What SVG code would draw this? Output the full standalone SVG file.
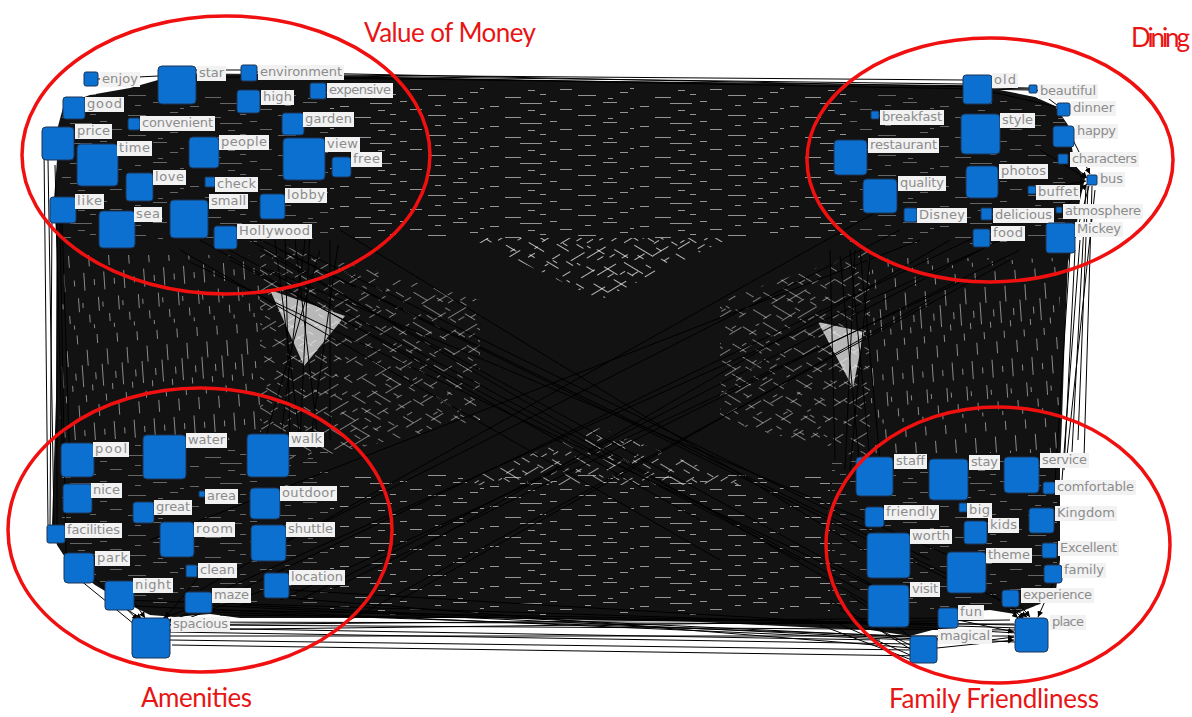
<svg xmlns="http://www.w3.org/2000/svg" width="1192" height="717" viewBox="0 0 1192 717">
<style>
.n{fill:#0b70cf;stroke:#1d3557;stroke-width:1}
.lb{fill:#f2f2f2}
.t{font-family:"DejaVu Sans",Verdana,sans-serif;font-size:13px;fill:#8c8c8c}
.e{fill:none;stroke:#000;stroke-width:1}
.ea{fill:none;stroke:#000;stroke-width:1;marker-end:url(#ah)}
.cl{fill:none;stroke:#f01010;stroke-width:3.5}
.ti{font-family:Lato,"Liberation Sans",sans-serif;font-size:26px;fill:#e81515}
.sk{stroke:#fff;stroke-width:1;fill:none}
</style>
<defs>
<marker id="ah" viewBox="0 0 10 10" refX="10" refY="5" markerWidth="6" markerHeight="6" orient="auto"><path d="M0,0L10,5L0,10z" fill="#000"/></marker>
<pattern id="tx" width="150" height="20" patternUnits="userSpaceOnUse"><path class="sk" d="M3 2.5h14M40 6.5h9M70 3.5h22M110 9.5h12M128 15.5h18M20 12.5h8M55 17.5h16M90 14.5h6M8 18.5h5M100 1.5h7M135 5.5h6M30 8.5h4M78 10.5h7"/></pattern>
<pattern id="txv" href="#tx" patternTransform="rotate(86)"/>
<pattern id="txd1" href="#tx" patternTransform="rotate(31)"/>
<pattern id="txd2" href="#tx" patternTransform="rotate(-31)"/>
</defs>
<rect width="1192" height="717" fill="#fff"/>
<g id="connectors">
<path id="edge-mass" fill="#121212" d="M57,130 L64,104 L90,95 L130,88 L158,80 L200,74 L260,75 L330,76 L600,81 L860,85 L963,86 L1000,90 L1035,97 L1055,106 L1068,125 L1075,165 L1085,178 L1080,200 L1076,230 L1068,262 L1065,330 L1062,420 L1060,470 L1060,560 L1056,590 L1040,604 L1015,614 L990,610 L960,612 L940,628 L910,636 L870,630 L820,628 L700,622 L480,618 L330,618 L240,618 L210,614 L175,617 L150,615 L120,600 L95,585 L70,565 L57,545 L52,525 L56,400 L57,250 L54,200 L57,160 Z"/>
<rect x="330" y="88" width="520" height="150" fill="url(#tx)" opacity="0.55"/>
<rect x="330" y="475" width="500" height="140" fill="url(#tx)" opacity="0.55"/>
<rect x="62" y="92" width="268" height="150" fill="url(#tx)" opacity="0.35"/>
<rect x="850" y="95" width="215" height="150" fill="url(#tx)" opacity="0.35"/>
<rect x="62" y="445" width="268" height="160" fill="url(#tx)" opacity="0.35"/>
<rect x="832" y="460" width="225" height="150" fill="url(#tx)" opacity="0.35"/>
<rect x="60" y="255" width="200" height="185" fill="url(#txv)" opacity="0.5"/>
<rect x="870" y="258" width="190" height="195" fill="url(#txv)" opacity="0.5"/>
<path d="M260,240 L480,300 L480,420 L260,470 Z" fill="url(#txd1)" opacity="0.45"/>
<path d="M260,240 L480,300 L480,420 L260,470 Z" fill="url(#txd2)" opacity="0.45"/>
<path d="M720,300 L870,250 L870,460 L720,420 Z" fill="url(#txd1)" opacity="0.45"/>
<path d="M720,300 L870,250 L870,460 L720,420 Z" fill="url(#txd2)" opacity="0.45"/>
<path d="M470,238 L730,238 L600,300 Z" fill="url(#txd1)" opacity="0.7"/>
<path d="M470,238 L730,238 L600,300 Z" fill="url(#txd2)" opacity="0.7"/>
<path d="M450,485 L600,428 L750,485 Z" fill="url(#txd1)" opacity="0.6"/>
<path d="M450,485 L600,428 L750,485 Z" fill="url(#txd2)" opacity="0.6"/>
<path d="M270,290 L345,316 L304,366 Z M818,322 L864,332 L853,388 Z" fill="#fff" opacity="0.7"/>
<path class="e" d="M98,79 L158,76 M196,70 L241,70 M196,74 L963,80 M257,72 L1029,88 M257,75 L963,84 M223,77 L992,86 M340,77 L1029,90 M992,88 L1029,89 M992,92 L1057,107 M1037,90 L1057,105"/>
<path class="e" d="M1075,238 L1089,186 M1092,186 L1084,458 M1086,186 L1072,452 M1075,250 L1064,470 M1080,240 L1062,480 M1070,252 L1055,482 M1095,190 L1066,465 M1088,186 L1078,440"/>
<path class="e" d="M830,600 L912,650 M840,610 L910,645 M830,620 L910,655 M850,595 L915,640 M820,625 L912,660"/>
<path class="e" d="M170,640 L910,650 M170,636 L1014,636 M170,632 L912,644 M200,625 L1015,630 M212,610 L1015,625 M172,645 L925,656 M133,606 L910,640 M180,628 L880,640 M150,625 L960,618 M240,605 L1015,642 M290,590 L1016,633 M220,615 L870,622 M170,630 L1010,620 M120,600 L1020,628 M200,605 L940,640 M213,612 L909,636 M289,598 L912,648 M170,622 L1014,624"/>
<path class="e" d="M52,215 L50,526 M57,200 L57,540 M60,222 L66,553 M48,160 L54,525 M62,220 L70,470 M55,165 L62,445 M44,150 L48,525 M80,580 L134,624 M264,590 L170,625"/>
<path class="e" d="M300,250 L930,560 M250,240 L880,610 M330,240 L330,440 M310,230 L300,440 M280,250 L950,580 M240,230 L1000,600 M285,235 L290,440 M340,230 L880,560 M275,240 L300,440 M295,240 L318,440 M200,240 L700,520 M180,250 L720,560 M230,260 L800,560 M320,250 L262,450 M260,250 L900,600 M220,245 L860,590 M305,240 L280,445 M338,245 L310,445 M270,270 L960,560 M190,262 L880,590"/>
<path class="e" d="M900,230 L250,560 M880,210 L200,590 M850,250 L870,460 M860,250 L880,460 M920,240 L150,540 M840,255 L860,470 M1000,240 L300,600 M980,250 L200,600 M1010,260 L350,620 M950,240 L400,560 M930,300 L400,600 M855,250 L845,470 M1020,250 L330,590 M965,280 L280,600 M830,250 L835,460 M870,255 L850,470 M990,230 L240,590"/>
<path class="ea" d="M1040,150 L1086,178"/>
<path class="ea" d="M1036,190 L1086,181"/>
<path class="ea" d="M1068,160 L1087,178"/>
<path class="ea" d="M1073,140 L1090,174"/>
<path class="ea" d="M1062,210 L1087,184"/>
<path class="ea" d="M1010,607 L1024,619"/>
<path class="ea" d="M1020,605 L1030,617"/>
<path class="ea" d="M1053,583 L1038,617"/>
<path class="ea" d="M958,620 L1014,632"/>
<path class="ea" d="M990,592 L1018,618"/>
<path class="ea" d="M990,640 L1014,637"/>
<path class="ea" d="M937,648 L1014,640"/>
<path class="ea" d="M1000,600 L1027,617"/>
<path class="ea" d="M94,578 L138,620"/>
<path class="ea" d="M120,605 L142,619"/>
<path class="ea" d="M198,578 L165,618"/>
<path class="ea" d="M190,608 L162,619"/>
<path class="ea" d="M212,606 L168,621"/>
<path class="ea" d="M133,600 L145,618"/>
</g>
<g id="nodes">
<g id="n-enjoy"><rect class="n" x="84" y="72" width="14" height="14" rx="2"/><rect class="lb" x="100" y="72" width="40" height="15"/><text class="t" x="102" y="83" textLength="36">enjoy</text></g>
<g id="n-star"><rect class="n" x="158" y="66" width="38" height="38" rx="4"/><rect class="lb" x="197" y="66" width="29" height="15"/><text class="t" x="199" y="77" textLength="25">star</text></g>
<g id="n-environment"><rect class="n" x="241" y="65" width="16" height="16" rx="2"/><rect class="lb" x="258" y="65" width="86" height="15"/><text class="t" x="260" y="76" textLength="82">environment</text></g>
<g id="n-high"><rect class="n" x="237" y="90" width="23" height="23" rx="3"/><rect class="lb" x="261" y="90" width="33" height="15"/><text class="t" x="263" y="101" textLength="29">high</text></g>
<g id="n-expensive"><rect class="n" x="310" y="83" width="16" height="16" rx="2"/><rect class="lb" x="327" y="83" width="66" height="15"/><text class="t" x="329" y="94" textLength="62">expensive</text></g>
<g id="n-good"><rect class="n" x="63" y="97" width="22" height="22" rx="3"/><rect class="lb" x="85" y="97" width="39" height="15"/><text class="t" x="87" y="108" textLength="35">good</text></g>
<g id="n-convenient"><rect class="n" x="128" y="118" width="12" height="12" rx="2"/><rect class="lb" x="140" y="116" width="75" height="15"/><text class="t" x="142" y="127" textLength="71">convenient</text></g>
<g id="n-garden"><rect class="n" x="282" y="113" width="22" height="22" rx="3"/><rect class="lb" x="303" y="112" width="51" height="15"/><text class="t" x="305" y="123" textLength="47">garden</text></g>
<g id="n-price"><rect class="n" x="42" y="127" width="32" height="33" rx="4"/><rect class="lb" x="75" y="124" width="37" height="15"/><text class="t" x="77" y="135" textLength="33">price</text></g>
<g id="n-time"><rect class="n" x="77" y="144" width="41" height="42" rx="4"/><rect class="lb" x="117" y="141" width="35" height="15"/><text class="t" x="119" y="152" textLength="31">time</text></g>
<g id="n-people"><rect class="n" x="189" y="137" width="30" height="31" rx="4"/><rect class="lb" x="219" y="135" width="50" height="15"/><text class="t" x="221" y="146" textLength="46">people</text></g>
<g id="n-view"><rect class="n" x="283" y="138" width="42" height="42" rx="4"/><rect class="lb" x="325" y="137" width="35" height="15"/><text class="t" x="327" y="148" textLength="31">view</text></g>
<g id="n-free"><rect class="n" x="332" y="157" width="19" height="20" rx="3"/><rect class="lb" x="351" y="152" width="31" height="15"/><text class="t" x="353" y="163" textLength="27">free</text></g>
<g id="n-love"><rect class="n" x="126" y="173" width="27" height="28" rx="3"/><rect class="lb" x="153" y="170" width="33" height="15"/><text class="t" x="155" y="181" textLength="29">love</text></g>
<g id="n-check"><rect class="n" x="205" y="177" width="10" height="10" rx="1"/><rect class="lb" x="215" y="177" width="43" height="15"/><text class="t" x="217" y="188" textLength="39">check</text></g>
<g id="n-like"><rect class="n" x="50" y="197" width="26" height="26" rx="3"/><rect class="lb" x="75" y="194" width="29" height="15"/><text class="t" x="77" y="205" textLength="25">like</text></g>
<g id="n-sea"><rect class="n" x="99" y="211" width="36" height="37" rx="4"/><rect class="lb" x="134" y="207" width="28" height="15"/><text class="t" x="136" y="218" textLength="24">sea</text></g>
<g id="n-small"><rect class="n" x="170" y="200" width="38" height="38" rx="4"/><rect class="lb" x="209" y="194" width="39" height="15"/><text class="t" x="211" y="205" textLength="35">small</text></g>
<g id="n-lobby"><rect class="n" x="260" y="194" width="25" height="25" rx="3"/><rect class="lb" x="285" y="188" width="42" height="15"/><text class="t" x="287" y="199" textLength="38">lobby</text></g>
<g id="n-Hollywood"><rect class="n" x="214" y="226" width="23" height="23" rx="3"/><rect class="lb" x="237" y="224" width="75" height="15"/><text class="t" x="239" y="235" textLength="71">Hollywood</text></g>
<g id="n-old"><rect class="n" x="963" y="75" width="29" height="29" rx="3"/><rect class="lb" x="992" y="73" width="26" height="15"/><text class="t" x="994" y="84" textLength="22">old</text></g>
<g id="n-beautiful"><rect class="n" x="1029" y="85" width="8" height="8" rx="1"/><rect class="lb" x="1038" y="84" width="60" height="15"/><text class="t" x="1040" y="95" textLength="56">beautiful</text></g>
<g id="n-breakfast"><rect class="n" x="871" y="111" width="8" height="8" rx="1"/><rect class="lb" x="880" y="110" width="64" height="15"/><text class="t" x="882" y="121" textLength="60">breakfast</text></g>
<g id="n-dinner"><rect class="n" x="1057" y="103" width="13" height="13" rx="2"/><rect class="lb" x="1071" y="101" width="45" height="15"/><text class="t" x="1073" y="112" textLength="41">dinner</text></g>
<g id="n-style"><rect class="n" x="961" y="114" width="39" height="40" rx="4"/><rect class="lb" x="1000" y="113" width="35" height="15"/><text class="t" x="1002" y="124" textLength="31">style</text></g>
<g id="n-restaurant"><rect class="n" x="834" y="140" width="33" height="35" rx="4"/><rect class="lb" x="868" y="138" width="71" height="15"/><text class="t" x="870" y="149" textLength="67">restaurant</text></g>
<g id="n-happy"><rect class="n" x="1053" y="126" width="21" height="21" rx="3"/><rect class="lb" x="1075" y="124" width="43" height="15"/><text class="t" x="1077" y="135" textLength="39">happy</text></g>
<g id="n-characters"><rect class="n" x="1058" y="154" width="10" height="10" rx="1"/><rect class="lb" x="1070" y="152" width="69" height="15"/><text class="t" x="1072" y="163" textLength="65">characters</text></g>
<g id="n-photos"><rect class="n" x="966" y="166" width="32" height="32" rx="4"/><rect class="lb" x="999" y="164" width="49" height="15"/><text class="t" x="1001" y="175" textLength="45">photos</text></g>
<g id="n-bus"><rect class="n" x="1087" y="175" width="10" height="10" rx="1"/><rect class="lb" x="1098" y="172" width="27" height="15"/><text class="t" x="1100" y="183" textLength="23">bus</text></g>
<g id="n-quality"><rect class="n" x="863" y="179" width="34" height="34" rx="4"/><rect class="lb" x="898" y="176" width="48" height="15"/><text class="t" x="900" y="187" textLength="44">quality</text></g>
<g id="n-buffet"><rect class="n" x="1028" y="186" width="8" height="8" rx="1"/><rect class="lb" x="1036" y="185" width="44" height="15"/><text class="t" x="1038" y="196" textLength="40">buffet</text></g>
<g id="n-Disney"><rect class="n" x="904" y="208" width="13" height="14" rx="2"/><rect class="lb" x="917" y="208" width="50" height="15"/><text class="t" x="919" y="219" textLength="46">Disney</text></g>
<g id="n-delicious"><rect class="n" x="981" y="208" width="11" height="12" rx="1"/><rect class="lb" x="993" y="208" width="61" height="15"/><text class="t" x="995" y="219" textLength="57">delicious</text></g>
<g id="n-atmosphere"><rect class="n" x="1056" y="207" width="6" height="6" rx="1"/><rect class="lb" x="1063" y="204" width="80" height="15"/><text class="t" x="1065" y="215" textLength="76">atmosphere</text></g>
<g id="n-food"><rect class="n" x="973" y="229" width="17" height="18" rx="2"/><rect class="lb" x="991" y="226" width="34" height="15"/><text class="t" x="993" y="237" textLength="30">food</text></g>
<g id="n-Mickey"><rect class="n" x="1046" y="223" width="29" height="30" rx="3"/><rect class="lb" x="1075" y="222" width="48" height="15"/><text class="t" x="1077" y="233" textLength="44">Mickey</text></g>
<g id="n-pool"><rect class="n" x="61" y="443" width="33" height="34" rx="4"/><rect class="lb" x="93" y="442" width="36" height="15"/><text class="t" x="95" y="453" textLength="32">pool</text></g>
<g id="n-water"><rect class="n" x="143" y="435" width="43" height="44" rx="4"/><rect class="lb" x="186" y="433" width="41" height="15"/><text class="t" x="188" y="444" textLength="37">water</text></g>
<g id="n-walk"><rect class="n" x="247" y="434" width="42" height="43" rx="4"/><rect class="lb" x="289" y="432" width="35" height="15"/><text class="t" x="291" y="443" textLength="31">walk</text></g>
<g id="n-nice"><rect class="n" x="63" y="484" width="29" height="29" rx="3"/><rect class="lb" x="91" y="483" width="31" height="15"/><text class="t" x="93" y="494" textLength="27">nice</text></g>
<g id="n-area"><rect class="n" x="199" y="491" width="6" height="6" rx="1"/><rect class="lb" x="205" y="489" width="33" height="15"/><text class="t" x="207" y="500" textLength="29">area</text></g>
<g id="n-outdoor"><rect class="n" x="250" y="488" width="30" height="31" rx="4"/><rect class="lb" x="280" y="486" width="57" height="15"/><text class="t" x="282" y="497" textLength="53">outdoor</text></g>
<g id="n-great"><rect class="n" x="133" y="502" width="21" height="21" rx="3"/><rect class="lb" x="154" y="500" width="38" height="15"/><text class="t" x="156" y="511" textLength="34">great</text></g>
<g id="n-facilities"><rect class="n" x="47" y="525" width="18" height="18" rx="2"/><rect class="lb" x="65" y="523" width="57" height="15"/><text class="t" x="67" y="534" textLength="53">facilities</text></g>
<g id="n-room"><rect class="n" x="160" y="522" width="34" height="35" rx="4"/><rect class="lb" x="194" y="522" width="41" height="15"/><text class="t" x="196" y="533" textLength="37">room</text></g>
<g id="n-shuttle"><rect class="n" x="251" y="525" width="35" height="36" rx="4"/><rect class="lb" x="286" y="522" width="49" height="15"/><text class="t" x="288" y="533" textLength="45">shuttle</text></g>
<g id="n-park"><rect class="n" x="64" y="553" width="30" height="30" rx="4"/><rect class="lb" x="95" y="551" width="35" height="15"/><text class="t" x="97" y="562" textLength="31">park</text></g>
<g id="n-clean"><rect class="n" x="186" y="565" width="11" height="12" rx="1"/><rect class="lb" x="198" y="563" width="39" height="15"/><text class="t" x="200" y="574" textLength="35">clean</text></g>
<g id="n-location"><rect class="n" x="264" y="573" width="25" height="25" rx="3"/><rect class="lb" x="289" y="570" width="56" height="15"/><text class="t" x="291" y="581" textLength="52">location</text></g>
<g id="n-night"><rect class="n" x="105" y="581" width="29" height="29" rx="3"/><rect class="lb" x="133" y="578" width="40" height="15"/><text class="t" x="135" y="589" textLength="36">night</text></g>
<g id="n-maze"><rect class="n" x="185" y="592" width="27" height="21" rx="3"/><rect class="lb" x="212" y="588" width="39" height="15"/><text class="t" x="214" y="599" textLength="35">maze</text></g>
<g id="n-spacious"><rect class="n" x="132" y="618" width="38" height="40" rx="4"/><rect class="lb" x="171" y="617" width="59" height="15"/><text class="t" x="173" y="628" textLength="55">spacious</text></g>
<g id="n-staff"><rect class="n" x="856" y="457" width="37" height="39" rx="4"/><rect class="lb" x="894" y="454" width="33" height="15"/><text class="t" x="896" y="465" textLength="29">staff</text></g>
<g id="n-stay"><rect class="n" x="929" y="459" width="39" height="41" rx="4"/><rect class="lb" x="969" y="455" width="31" height="15"/><text class="t" x="971" y="466" textLength="27">stay</text></g>
<g id="n-service"><rect class="n" x="1004" y="457" width="35" height="36" rx="4"/><rect class="lb" x="1040" y="453" width="49" height="15"/><text class="t" x="1042" y="464" textLength="45">service</text></g>
<g id="n-comfortable"><rect class="n" x="1043" y="482" width="12" height="12" rx="2"/><rect class="lb" x="1055" y="480" width="81" height="15"/><text class="t" x="1057" y="491" textLength="77">comfortable</text></g>
<g id="n-friendly"><rect class="n" x="865" y="507" width="19" height="20" rx="3"/><rect class="lb" x="884" y="505" width="55" height="15"/><text class="t" x="886" y="516" textLength="51">friendly</text></g>
<g id="n-big"><rect class="n" x="959" y="503" width="8" height="9" rx="1"/><rect class="lb" x="967" y="503" width="25" height="15"/><text class="t" x="969" y="514" textLength="21">big</text></g>
<g id="n-Kingdom"><rect class="n" x="1029" y="508" width="25" height="25" rx="3"/><rect class="lb" x="1055" y="506" width="62" height="15"/><text class="t" x="1057" y="517" textLength="58">Kingdom</text></g>
<g id="n-kids"><rect class="n" x="964" y="521" width="23" height="23" rx="3"/><rect class="lb" x="988" y="518" width="31" height="15"/><text class="t" x="990" y="529" textLength="27">kids</text></g>
<g id="n-worth"><rect class="n" x="867" y="533" width="43" height="45" rx="4"/><rect class="lb" x="910" y="529" width="42" height="15"/><text class="t" x="912" y="540" textLength="38">worth</text></g>
<g id="n-Excellent"><rect class="n" x="1042" y="543" width="15" height="15" rx="2"/><rect class="lb" x="1058" y="541" width="61" height="15"/><text class="t" x="1060" y="552" textLength="57">Excellent</text></g>
<g id="n-theme"><rect class="n" x="947" y="552" width="39" height="41" rx="4"/><rect class="lb" x="986" y="548" width="46" height="15"/><text class="t" x="988" y="559" textLength="42">theme</text></g>
<g id="n-family"><rect class="n" x="1044" y="565" width="18" height="18" rx="3"/><rect class="lb" x="1062" y="563" width="44" height="15"/><text class="t" x="1064" y="574" textLength="40">family</text></g>
<g id="n-visit"><rect class="n" x="868" y="585" width="41" height="42" rx="4"/><rect class="lb" x="910" y="582" width="30" height="15"/><text class="t" x="912" y="593" textLength="26">visit</text></g>
<g id="n-experience"><rect class="n" x="1002" y="590" width="17" height="17" rx="3"/><rect class="lb" x="1021" y="588" width="73" height="15"/><text class="t" x="1023" y="599" textLength="69">experience</text></g>
<g id="n-fun"><rect class="n" x="938" y="608" width="20" height="20" rx="3"/><rect class="lb" x="958" y="605" width="26" height="15"/><text class="t" x="960" y="616" textLength="22">fun</text></g>
<g id="n-place"><rect class="n" x="1015" y="618" width="33" height="34" rx="4"/><rect class="lb" x="1050" y="615" width="36" height="15"/><text class="t" x="1052" y="626" textLength="32">place</text></g>
<g id="n-magical"><rect class="n" x="910" y="636" width="27" height="27" rx="3"/><rect class="lb" x="938" y="629" width="54" height="15"/><text class="t" x="940" y="640" textLength="50">magical</text></g>
</g>
<g id="clusters">
<ellipse class="cl" cx="226" cy="155" rx="204" ry="139"/>
<ellipse class="cl" cx="990" cy="160" rx="183" ry="122"/>
<ellipse class="cl" cx="200" cy="530" rx="192" ry="142"/>
<ellipse class="cl" cx="998" cy="545" rx="172" ry="138"/>
<text class="ti" x="364" y="42" textLength="172">Value of Money</text>
<text class="ti" x="1131" y="47" textLength="59">Dining</text>
<text class="ti" x="141" y="707" textLength="111">Amenities</text>
<text class="ti" x="889" y="708" textLength="210">Family Friendliness</text>
</g>
</svg>
